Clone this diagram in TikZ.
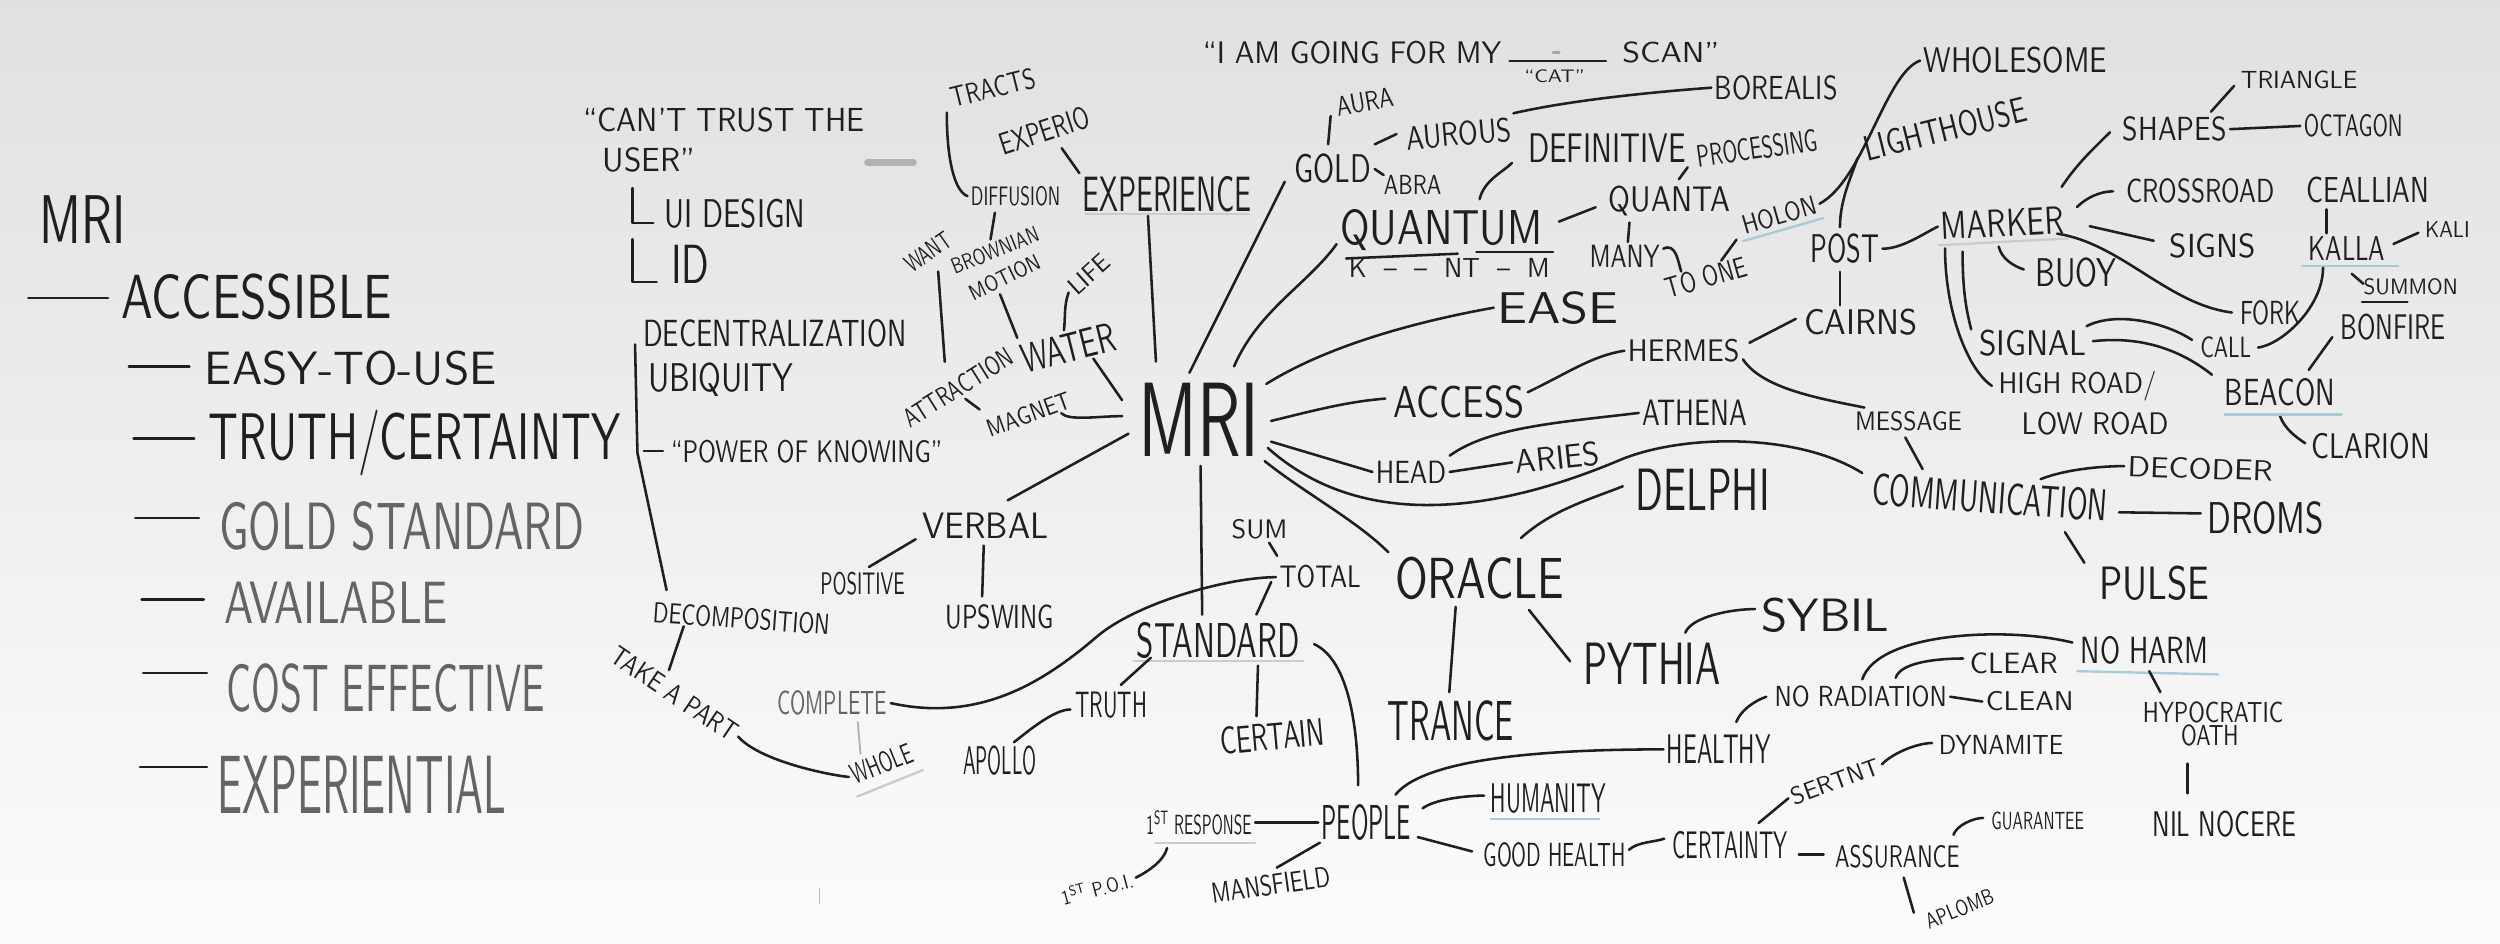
\documentclass[tikz,border=0pt]{standalone}
\usepackage{graphicx}
\usetikzlibrary{calc}
\definecolor{ink}{HTML}{1F1F1F}
\definecolor{fadeink}{HTML}{646464}
\definecolor{hlblue}{HTML}{9FC6D2}
\newcommand{\hwtext}[3]{\resizebox{#1pt}{#2pt}{\sffamily #3}}
\begin{document}
\begin{tikzpicture}[x=1pt,y=-1pt,
  lab/.style={inner sep=2pt,text=ink},
  faded/.style={inner sep=2pt,text=fadeink},
  con/.style={draw=ink,line width=1.6pt,line cap=round,line join=round},
  fadecon/.style={draw=black!30,line width=1.2pt,line cap=round},
  uline/.style={draw=hlblue,line width=1.5pt,line cap=round,opacity=0.85},
  gline/.style={draw=black!20,line width=1.5pt,line cap=round}]
\useasboundingbox (0,0) rectangle (1568,592);
\shade[top color=black!12, bottom color=black!1] (0,0) rectangle (1568,592);

% ---------- left list ----------
\node[lab] (lmri) at (52,138) {\hwtext{54}{30}{MRI}};
\node[lab] (acc) at (161,186) {\hwtext{170}{28}{ACCESSIBLE}};
\node[lab] (easy) at (220,231) {\hwtext{183}{21}{EASY-TO-USE}};
\node[lab] (trc) at (260,278) {\hwtext{258}{31}{TRUTH/CERTAINTY}};
\node[faded] (gstd) at (252,330) {\hwtext{229}{30}{GOLD STANDARD}};
\node[faded] (avail) at (211,378) {\hwtext{140}{26}{AVAILABLE}};
\node[faded] (cost) at (242,432) {\hwtext{200}{30}{COST EFFECTIVE}};
\node[faded] (expl) at (227,492) {\hwtext{181}{36}{EXPERIENTIAL}};
\draw[con] ($(acc.west)+(-6,1)$) -- ++(-50,0);
\draw[con] ($(easy.west)+(-7.5,-1)$) -- ++(-38,0);
\draw[con] ($(trc.west)+(-7,-3)$) -- ++(-38,0);
\draw[con] ($(gstd.west)+(-10.5,-5)$) -- ++(-40,0);
\draw[con] ($(avail.west)+(-11,-2)$) -- ++(-39,0);
\draw[con] ($(cost.west)+(-10,-10)$) -- ++(-40,0);
\draw[con] ($(expl.west)+(-4.5,-11)$) -- ++(-42,0);

% ---------- middle left ----------
\node[lab] (ct1) at (454,75) {\hwtext{176}{15}{``CAN'T TRUST THE}};
\node[lab] (ct2) at (407,100) {\hwtext{58}{15}{USER''}};
\node[lab] (uid) at (461,134) {\hwtext{88}{18}{UI DESIGN}};
\node[lab] (lid) at (433,166) {\hwtext{24}{24}{ID}};
\draw[con] ($(uid.west)+(-18,-16)$) |- ($(uid.west)+(-5,6)$);
\draw[con] ($(lid.west)+(-22,-16)$) |- ($(lid.west)+(-7,11)$);
\draw[black!30,line width=4pt,line cap=round] (544,102) -- (573,102);

\node[lab] (dec) at (486,209) {\hwtext{165}{17}{DECENTRALIZATION}};
\node[lab] (ubq) at (452,238) {\hwtext{91}{18}{UBIQUITY}};
\node[lab] (pok) at (506,283) {\hwtext{170}{14}{``POWER OF KNOWING''}};
\node[lab,rotate=-4] (decomp) at (465,388) {\hwtext{111}{13}{DECOMPOSITION}};
\node[lab,rotate=-34] (tap) at (423,435) {\hwtext{92}{12}{TAKE A PART}};
\node[lab,rotate=22] (whole) at (553,479) {\hwtext{40}{13}{WHOLE}};
\node[faded] (comp) at (522,441) {\hwtext{69}{15}{COMPLETE}};
\draw[con] ($(ubq.west)+(-6,-22)$) -- ($(pok.west)+(-19,1)$) -- ($(decomp.north west)+(10,-5)$);
\draw[con] ($(pok.west)+(-15,0)$) -- ($(pok.west)+(-3,0)$);
\draw[con] ($(decomp.south west)+(22,0)$) -- ($(tap.north)+(-8,-8)$);
\draw[con] (tap.east) .. controls +(12,14) and +(-18,-2) .. (whole.west);
\draw[fadecon] ($(comp.south)+(16,2)$) -- ($(whole.north)+(-10,2)$);
\draw[gline] ($(whole.south west)+(2,4)$) -- ($(whole.south east)+(2,4)$);

% ---------- verbal ----------
\node[lab] (verbal) at (618,330) {\hwtext{79}{16}{VERBAL}};
\node[lab] (pos) at (541,366) {\hwtext{53}{14}{POSITIVE}};
\node[lab] (ups) at (627,387) {\hwtext{68}{15}{UPSWING}};
\draw[con] ($(verbal.south west)+(-2,-2)$) -- ($(pos.north)+(4,-1)$);
\draw[con] ($(verbal.south)+(-1,2)$) -- ($(ups.north)+(-11,-3)$);

% ---------- centre MRI ----------
\node[lab] (mri) at (752,263) {\hwtext{76}{46}{MRI}};
\draw[con] ($(mri.west)+(-4,9)$) -- ($(verbal.north)+(14,-6)$);

% ---------- upper left cluster ----------
\node[lab] (exp) at (732,122) {\hwtext{106}{22}{EXPERIENCE}};
\node[lab,rotate=18] (expero) at (655,82) {\hwtext{58}{14}{EXPERIO}};
\node[lab,rotate=14] (tracts) at (623,55) {\hwtext{54}{13}{TRACTS}};
\node[lab] (diff) at (637,123) {\hwtext{56}{12}{DIFFUSION}};
\node[lab,rotate=22] (brown1) at (624,157) {\hwtext{58}{10}{BROWNIAN}};
\node[lab,rotate=26] (brown2) at (630,174) {\hwtext{48}{10}{MOTION}};
\node[lab,rotate=35] (want) at (582,158) {\hwtext{32}{11}{WANT}};
\node[lab,rotate=32] (attr) at (601,243) {\hwtext{78}{12}{ATTRACTION}};
\node[lab,rotate=14] (water) at (670,218) {\hwtext{60}{18}{WATER}};
\node[lab,rotate=42] (life) at (683,172) {\hwtext{30}{11}{LIFE}};
\node[lab,rotate=20] (magnet) at (645,260) {\hwtext{55}{11}{MAGNET}};
\draw[con] ($(mri.north)+(-27,-11)$) -- ($(exp.south)+(-12,0)$);
\draw[gline] ($(exp.south west)+(4,-1)$) -- ($(exp.south east)+(-4,-1)$);
\draw[con] ($(expero.south)+(8,2)$) -- ($(exp.north)+(-55,0)$);
\draw[con] ($(tracts.south west)+(-3,0)$) .. controls +(0,30) and +(-8,-3) .. (diff.west);
\draw[con] ($(diff.south)+(-13,2)$) -- (brown1.north);
\draw[con] ($(brown2.south)+(-6,4)$) -- ($(water.north west)+(2,-3)$);
\draw[con] (life.west) .. controls +(-3,8) and +(1,-8) .. (water.north);
\draw[con] ($(want.south)+(2,6)$) -- ($(attr.north)+(-4,-9)$);
\draw[con] (attr.south) -- ($(magnet.north west)+(0,-6)$);
\draw[con] ($(magnet.south east)+(-10,2)$) .. controls +(5,5) and +(-15,0) .. ($(mri.west)+(-8,-2)$);
\draw[con] ($(water.south)+(13,-4)$) -- ($(mri.west)+(-8,-12)$);

% ---------- gold / quantum ----------
\node[lab] (topq) at (848,33) {\hwtext{187}{14}{``I AM GOING FOR MY}};
\node[lab] (scan) at (1048,33) {\hwtext{61}{13}{SCAN''}};
\node[lab] (cat) at (975,48) {\hwtext{38}{8}{``CAT''}};
\draw[con,line width=1.3pt] ($(topq.east)+(3,5)$) -- ($(scan.west)+(-8,5)$);
\draw[black!35,line width=1.5pt,line cap=round] (974,33) -- (978,33);

\node[lab] (gold) at (836,106) {\hwtext{48}{18}{GOLD}};
\node[lab,rotate=10] (aura) at (856,64) {\hwtext{36}{12}{AURA}};
\node[lab,rotate=5] (aurous) at (915,84) {\hwtext{66}{15}{AUROUS}};
\node[lab] (abra) at (886,116) {\hwtext{36}{12}{ABRA}};
\node[lab] (boreal) at (1114,55) {\hwtext{77}{15}{BOREALIS}};
\draw[con] ($(mri.north)+(-6,-4)$) -- ($(gold.west)+(-4,8)$);
\draw[con] ($(aura.south west)+(-3,-3)$) -- ($(gold.north)+(-3,-4)$);
\draw[con] ($(gold.north east)+(0,-4)$) -- ($(aurous.west)+(-4,-3)$);
\draw[con] (gold.east) -- ($(abra.north west)+(2,2)$);
\draw[con] (aurous.north east) .. controls +(35,-8) and +(-40,3) .. (boreal.west);

\node[lab] (quant) at (904,144) {\hwtext{127}{22}{QUANTUM}};
\node[lab] (kntm) at (909,168) {\hwtext{126}{12}{K \ -- \ -- \ NT \ -- \ M}};
\node[lab] (def) at (1008,93) {\hwtext{99}{18}{DEFINITIVE}};
\node[lab,rotate=8] (proc) at (1102,93) {\hwtext{76}{14}{PROCESSING}};
\node[lab] (quanta) at (1047,126) {\hwtext{76}{16}{QUANTA}};
\node[lab] (many) at (1019,161) {\hwtext{44}{14}{MANY}};
\node[lab,rotate=16] (toone) at (1070,174) {\hwtext{52}{13}{TO ONE}};
\node[lab,rotate=16] (holon) at (1116,135) {\hwtext{48}{12}{HOLON}};
\node[lab] (wholesome) at (1264,38) {\hwtext{115}{16}{WHOLESOME}};
\draw[con] ($(mri.north)+(22,-8)$) .. controls +(15,-35) and +(-18,25) .. ($(quant.south west)+(0,-6)$);
\draw[con] ($(quant.south west)+(6,3)$) -- ++(70,-3);
\draw[con] ($(quant.south)+(22,-1)$) -- ++(48,0);
\draw[con] ($(quant.north)+(24,-4)$) .. controls +(3,-12) and +(-6,6) .. ($(def.south west)+(-8,-2)$);
\draw[con] ($(quant.east)+(8,-5)$) -- ($(quanta.west)+(-6,4)$);
\draw[con] ($(quanta.north)+(6,-2)$) -- ($(proc.south west)+(-5,-3)$);
\draw[con] ($(quanta.south)+(-25,2)$) -- ($(many.north)+(2,0)$);
\draw[con] ($(many.east)+(0,-5)$) .. controls +(8,-4) and +(-2,-6) .. ($(toone.north west)+(14,-3)$);
\draw[con] ($(toone.north)+(12,-2)$) -- ($(holon.south west)+(-4,0)$);
\draw[uline] ($(holon.south west)+(0,1)$) -- ($(holon.south east)+(0,1)$);
\draw[con] (holon.east) .. controls +(28,-15) and +(-22,8) .. (wholesome.west);

% ---------- post / marker cluster ----------
\node[lab,rotate=14] (light) at (1220,81) {\hwtext{104}{16}{LIGHTHOUSE}};
\node[lab] (post) at (1157,156) {\hwtext{43}{18}{POST}};
\node[lab,rotate=3] (marker) at (1256,140) {\hwtext{77}{17}{MARKER}};
\node[lab] (cairns) at (1167,202) {\hwtext{71}{16}{CAIRNS}};
\node[lab] (shapes) at (1364,81) {\hwtext{65}{15}{SHAPES}};
\node[lab] (tri) at (1442,50) {\hwtext{73}{11}{TRIANGLE}};
\node[lab] (oct) at (1476,79) {\hwtext{62}{14}{OCTAGON}};
\node[lab] (cross) at (1380,120) {\hwtext{93}{15}{CROSSROAD}};
\node[lab] (ceal) at (1485,119) {\hwtext{77}{16}{CEALLIAN}};
\node[lab] (signs) at (1388,154) {\hwtext{54}{15}{SIGNS}};
\node[lab] (kalla) at (1472,156) {\hwtext{48}{15}{KALLA}};
\node[lab] (kali) at (1535,144) {\hwtext{28}{10}{KALI}};
\node[lab] (buoy) at (1302,171) {\hwtext{51}{18}{BUOY}};
\node[lab] (summon) at (1512,180) {\hwtext{59}{10}{SUMMON}};
\node[lab] (fork) at (1424,196) {\hwtext{38}{15}{FORK}};
\node[lab] (bonfire) at (1501,205) {\hwtext{66}{16}{BONFIRE}};
\node[lab] (signal) at (1275,215) {\hwtext{67}{16}{SIGNAL}};
\node[lab] (call) at (1396,218) {\hwtext{32}{13}{CALL}};
\node[lab] (highroad) at (1303,242) {\hwtext{99}{14}{HIGH ROAD/}};
\node[lab] (lowroad) at (1314,266) {\hwtext{92}{14}{LOW ROAD}};
\node[lab] (beacon) at (1430,246) {\hwtext{69}{17}{BEACON}};
\node[lab] (clarion) at (1487,280) {\hwtext{74}{16}{CLARION}};
\draw[con] ($(post.north)+(-3,-2)$) .. controls +(0,-18) and +(-3,10) .. ($(light.south west)+(-5,-5)$);
\draw[con] (post.east) .. controls +(12,0) and +(-10,5) .. (marker.west);
\draw[gline] ($(marker.south west)+(0,1)$) -- ($(marker.south east)+(0,1)$);
\draw[con] ($(post.south)+(-3,3)$) -- ($(cairns.north)+(-13,0)$);
\draw[con] ($(marker.north east)+(-3,-10)$) .. controls +(10,-15) and +(-10,10) .. ($(shapes.west)+(-6,2)$);
\draw[con] ($(shapes.north east)+(-12,-1)$) -- ($(tri.south west)+(-2,-4)$);
\draw[con] (shapes.east) -- (oct.west);
\draw[con] ($(marker.east)+(6,-8)$) .. controls +(6,-6) and +(-8,0) .. ($(cross.west)+(-6,0)$);
\draw[con] ($(marker.east)+(14,4)$) -- ($(signs.west)+(-8,-3)$);
\draw[con] ($(marker.south)+(-3,4)$) .. controls +(2,8) and +(-6,-2) .. ($(buoy.west)+(-5,-2)$);
\draw[con] ($(marker.south east)+(-7,-2)$) .. controls +(40,6) and +(-40,-5) .. ($(fork.west)+(-3,0)$);
\draw[con] ($(marker.south west)+(15,5)$) .. controls +(0,25) and +(-3,-12) .. ($(signal.north west)+(-3,2)$);
\draw[con] ($(marker.south west)+(4,3)$) .. controls +(0,40) and +(-15,-10) .. ($(highroad.west)+(-2,0)$);
\draw[con] ($(signal.north east)+(-2,0)$) .. controls +(20,-10) and +(-15,-10) .. ($(call.north west)+(-3,4)$);
\draw[con] ($(signal.east)+(2,-1)$) .. controls +(35,-4) and +(-15,-12) .. ($(beacon.north west)+(-6,0)$);
\draw[con] ($(kalla.south)+(-15,2)$) .. controls +(0,25) and +(15,-2) .. ($(call.east)+(2,0)$);
\draw[con] ($(ceal.south)+(-26,2)$) -- ($(kalla.north)+(-13,0)$);
\draw[con] ($(kalla.east)+(3,-3)$) -- ($(kali.west)+(-2,2)$);
\draw[con] ($(kalla.south)+(3,6)$) -- ($(summon.west)+(2,-2)$);
\draw[uline] ($(kalla.south west)+(-2,1)$) -- ($(kalla.south east)+(6,1)$);
\draw[con,line width=1.2pt] ($(summon.south west)+(1,2)$) -- ($(summon.south)+(-2,2)$);
\draw[con] ($(beacon.north)+(18,-3)$) -- ($(bonfire.south west)+(-3,-4)$);
\draw[con] ($(beacon.south)+(0,4)$) .. controls +(3,8) and +(-6,-4) .. ($(clarion.west)+(-2,-2)$);
\draw[uline] ($(beacon.south west)+(2,3)$) -- ($(beacon.south east)+(2,3)$);

% ---------- ease / access / hermes ----------
\node[lab] (ease) at (977,193) {\hwtext{76}{20}{EASE}};
\node[lab] (access) at (915,252) {\hwtext{82}{20}{ACCESS}};
\node[lab] (hermes) at (1056,220) {\hwtext{70}{14}{HERMES}};
\node[lab] (athena) at (1063,259) {\hwtext{66}{16}{ATHENA}};
\node[lab] (head) at (885,296) {\hwtext{44}{14}{HEAD}};
\node[lab,rotate=6] (aries) at (977,287) {\hwtext{53}{15}{ARIES}};
\node[lab] (message) at (1197,264) {\hwtext{67}{12}{MESSAGE}};
\node[lab,rotate=-4] (comm) at (1248,312) {\hwtext{148}{20}{COMMUNICATION}};
\node[lab,rotate=-2] (decoder) at (1380,294) {\hwtext{91}{13}{DECODER}};
\node[lab] (droms) at (1421,325) {\hwtext{73}{20}{DROMS}};
\node[lab] (pulse) at (1351,366) {\hwtext{69}{21}{PULSE}};
\draw[con] ($(mri.north east)+(2,3)$) .. controls +(40,-25) and +(-45,8) .. (ease.west);
\draw[con] ($(mri.east)+(5,1)$) .. controls +(25,-6) and +(-25,2) .. ($(access.west)+(-3,-2)$);
\draw[con] ($(mri.east)+(5,14)$) -- (head.west);
\draw[con] (head.east) -- (aries.west);
\draw[con] ($(head.north east)+(0,-1)$) .. controls +(25,-18) and +(-50,6) .. (athena.west);
\draw[con] ($(access.east)+(0,-6)$) .. controls +(25,-12) and +(-20,3) .. (hermes.west);
\draw[con] ($(hermes.east)+(4,-5)$) -- ($(cairns.west)+(-3,-2)$);
\draw[con] ($(hermes.south east)+(0,-4)$) .. controls +(12,18) and +(-30,-6) .. ($(message.north west)+(8,0)$);
\draw[con] ($(message.south)+(-2,2)$) -- ($(comm.north west)+(33,0)$);
\draw[con] ($(mri.east)+(3,18)$) .. controls +(55,49) and +(-87,37) .. ($(mri.east)+(225,25)$)
   .. controls +(40,-16) and +(-40,-25) .. ($(comm.west)+(-4,-10)$);
\draw[con] ($(comm.north)+(31,1)$) .. controls +(15,-6) and +(-15,0) .. (decoder.west);
\draw[con] ($(comm.east)+(5,4)$) -- ($(droms.west)+(-2,-3)$);
\draw[con] ($(comm.south east)+(-28,4)$) -- ($(pulse.north west)+(-7,0)$);

% ---------- oracle ----------
\node[lab] (delphi) at (1068,307) {\hwtext{84}{26}{DELPHI}};
\node[lab] (oracle) at (928,363) {\hwtext{106}{26}{ORACLE}};
\node[lab] (trance) at (910,452) {\hwtext{79}{25}{TRANCE}};
\node[lab] (pythia) at (1036,416) {\hwtext{86}{26}{PYTHIA}};
\node[lab] (sybil) at (1145,386) {\hwtext{80}{21}{SYBIL}};
\draw[con] ($(mri.south east)+(1,1)$) .. controls +(25,20) and +(-20,-20) .. ($(oracle.north west)+(-2,-1)$);
\draw[con] ($(oracle.north)+(26,-10)$) .. controls +(20,-18) and +(-20,8) .. ($(delphi.west)+(-6,-2)$);
\draw[con] ($(oracle.south)+(-15,2)$) -- ($(trance.north)+(-1,-3)$);
\draw[con] ($(oracle.south)+(31,4)$) -- ($(pythia.north west)+(-6,14)$);
\draw[con] ($(pythia.north)+(21,-4)$) .. controls +(4,-10) and +(-15,0) .. ($(sybil.west)+(-2,-4)$);

% ---------- standard ----------
\node[lab] (sum) at (790,332) {\hwtext{35}{12}{SUM}};
\node[lab] (total) at (828,362) {\hwtext{51}{14}{TOTAL}};
\node[lab] (standard) at (764,402) {\hwtext{102}{22}{STANDARD}};
\node[lab] (truth) at (697,442) {\hwtext{45}{16}{TRUTH}};
\node[lab] (apollo) at (627,477) {\hwtext{46}{18}{APOLLO}};
\node[lab,rotate=5] (certain) at (798,462) {\hwtext{66}{17}{CERTAIN}};
\draw[con] ($(mri.south)+(1,4)$) -- ($(standard.north)+(-10,-3)$);
\draw[con] ($(sum.south)+(6,0)$) -- ($(total.north)+(-27,-4)$);
\draw[con] ($(total.west)+(-3,3)$) -- ($(standard.north)+(24,-3)$);
\draw[gline] ($(standard.south west)+(0,-1)$) -- ($(standard.south east)+(0,-1)$);
\draw[con] ($(standard.south west)+(11,-3)$) -- ($(truth.north)+(6,-2)$);
\draw[con] ($(truth.west)+(-1,3)$) .. controls +(-10,0) and +(10,-8) .. ($(apollo.north)+(9,0)$);
\draw[con] ($(standard.south)+(25,2)$) -- ($(certain.north)+(-9,-2)$);
\draw[con] (comp.east) .. controls +(55,12) and +(-35,30) .. ($(total.west)+(-112,37)$)
   .. controls +(25,-21) and +(-30,0) .. (total.west);

% ---------- people ----------
\node[lab] (people) at (857,516) {\hwtext{56}{22}{PEOPLE}};
\node[lab] (resp1) at (752,516) {\hwtext{66}{15}{1\textsuperscript{ST} RESPONSE}};
\node[lab,rotate=15] (poi) at (688,557) {\hwtext{46}{11}{1\textsuperscript{ST} P.O.I.}};
\node[lab,rotate=8] (mansfield) at (797,555) {\hwtext{75}{13}{MANSFIELD}};
\node[lab] (humanity) at (971,501) {\hwtext{72}{18}{HUMANITY}};
\node[lab] (goodh) at (975,536) {\hwtext{89}{15}{GOOD HEALTH}};
\node[lab] (healthy) at (1078,470) {\hwtext{65}{18}{HEALTHY}};
\node[lab] (norad) at (1167,437) {\hwtext{108}{13}{NO RADIATION}};
\node[lab] (clear) at (1263,416) {\hwtext{55}{13}{CLEAR}};
\node[lab] (clean) at (1273,440) {\hwtext{55}{12}{CLEAN}};
\node[lab] (noharm) at (1345,408) {\hwtext{80}{17}{NO HARM}};
\node[lab] (hypo) at (1388,447) {\hwtext{88}{13}{HYPOCRATIC}};
\node[lab] (oath) at (1386,461) {\hwtext{36}{13}{OATH}};
\node[lab] (nil) at (1395,517) {\hwtext{90}{16}{NIL NOCERE}};
\node[lab] (certainty) at (1085,530) {\hwtext{72}{17}{CERTAINTY}};
\node[lab,rotate=20] (sertnt) at (1151,490) {\hwtext{58}{11}{SERTNT}};
\node[lab] (dynamite) at (1255,467) {\hwtext{78}{12}{DYNAMITE}};
\node[lab] (assurance) at (1190,537) {\hwtext{78}{14}{ASSURANCE}};
\node[lab] (guarantee) at (1278,515) {\hwtext{58}{11}{GUARANTEE}};
\node[lab,rotate=22] (aplomb) at (1229,570) {\hwtext{45}{10}{APLOMB}};
\draw[con] ($(standard.east)+(7,2)$) .. controls +(22,10) and +(0,-35) .. ($(people.north west)+(25,-10)$);
\draw[con] (resp1.east) -- (people.west);
\draw[gline] ($(resp1.south west)+(8,3)$) -- ($(resp1.south east)+(0,3)$);
\draw[con] ($(resp1.south)+(-20,6)$) .. controls +(-2,8) and +(8,-4) .. (poi.east);
\draw[con] ($(people.south west)+(1,-1)$) -- ($(mansfield.north)+(5,-2)$);
\draw[con] ($(people.east)+(5,-9)$) .. controls +(8,-6) and +(-10,0) .. ($(humanity.west)+(-2,-2)$);
\draw[uline] ($(humanity.south west)+(2,1)$) -- ($(humanity.south east)+(-6,1)$);
\draw[con] ($(people.east)+(2,9)$) -- ($(goodh.west)+(-5,-2)$);
\draw[con] ($(people.north east)+(-12,-4)$) .. controls +(20,-25) and +(-60,0) .. (healthy.west);
\draw[con] ($(healthy.north)+(11,-6)$) .. controls +(3,-8) and +(-6,2) .. ($(norad.west)+(-3,0)$);
\draw[con] ($(norad.north)+(22,-3)$) .. controls +(3,-10) and +(-15,0) .. ($(clear.west)+(-2,-3)$);
\draw[con] (norad.east) -- (clean.west);
\draw[con] ($(norad.north)+(1,-2)$) .. controls +(10,-30) and +(-40,-10) .. ($(noharm.west)+(-3,-5)$);
\draw[uline] ($(noharm.south west)+(0,2)$) -- ($(noharm.south east)+(4,4)$);
\draw[con] ($(noharm.south)+(3,2)$) -- ($(hypo.north)+(-33,-4)$);
\draw[con] ($(oath.south)+(-14,9)$) -- ($(nil.north)+(-23,-9)$);
\draw[con] ($(goodh.east)+(0,-3)$) .. controls +(5,-5) and +(-5,2) .. ($(certainty.west)+(-3,-4)$);
\draw[con] ($(certainty.north)+(18,-3)$) -- (sertnt.west);
\draw[con] (sertnt.east) .. controls +(8,-8) and +(-8,0) .. ($(dynamite.west)+(-2,-1)$);
\draw[con] ($(certainty.east)+(5,6)$) -- ($(assurance.west)+(-5,-1)$);
\draw[con] ($(assurance.north east)+(-6,-4)$) .. controls +(2,-6) and +(-6,0) .. ($(guarantee.west)+(-3,-2)$);
\draw[con] ($(assurance.south)+(4,4)$) -- ($(aplomb.north west)+(-3,0)$);
\draw[black!25,line width=1pt] (514,557) -- (514,567);
\end{tikzpicture}
\end{document}
